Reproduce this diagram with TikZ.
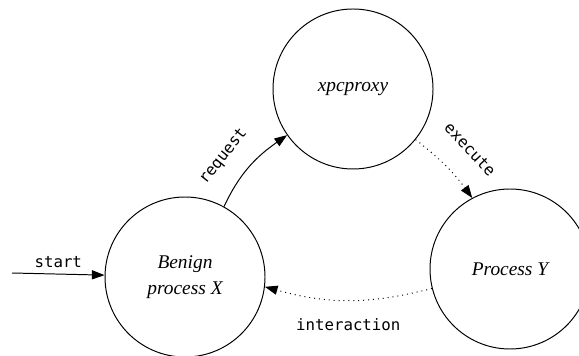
\documentclass[tikz,border=0pt]{standalone}
\usepackage{fontspec}
\setmainfont{Liberation Serif}
\setmonofont{DejaVu Sans Mono}
\usetikzlibrary{arrows.meta}

\tikzset{
  estado/.style={circle, draw, line width=0.7pt, minimum size=4cm, inner sep=0pt,
    align=center, font=\fontsize{13.8}{18.5}\selectfont\itshape},
  flecha/.style={-{Triangle[length=9pt,width=6.5pt]}, line width=0.7pt},
  punteada/.style={flecha, dash pattern=on 0.7pt off 2.8pt},
  etiqueta/.style={font=\fontsize{11.2}{13}\selectfont\ttfamily}
}

\begin{document}
\begin{tikzpicture}
\useasboundingbox (0,0) rectangle (14.475,8.9);

% Estados
\node[estado] (benign) at (4.625,1.975) {Benign\\process X};
\node[estado] (proxy) at (8.825,6.675) {xpcproxy};
\node[estado] (procY) at (12.75,2.175) {Process Y};

% Entrada
\coordinate (start) at (0.3,2.075);
\draw[flecha] (start) -- node[etiqueta, above=1pt] {start} (benign);

% Transiciones
\draw[flecha] (benign.61) to[out=65, in=215]
    node[etiqueta, sloped, above=10pt, pos=0.4] {request} (proxy.215);
\draw[punteada] (proxy.321) to[bend left=8]
    node[etiqueta, sloped, above=13pt, pos=0.55] {execute} (procY.118);
\draw[punteada] (procY.194) to[bend left=15]
    node[etiqueta, below=9pt] {interaction} (benign.-7);

\end{tikzpicture}
\end{document}
